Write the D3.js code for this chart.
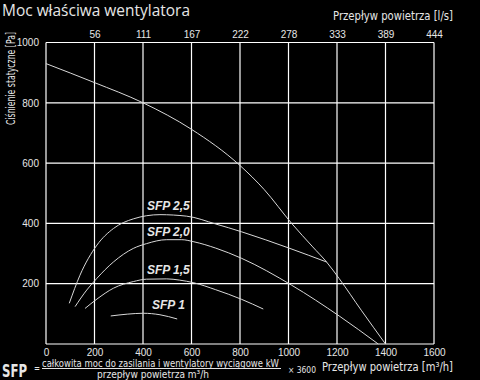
<!DOCTYPE html>
<html>
<head>
<meta charset="utf-8">
<script src="https://d3js.org/d3.v7.min.js"></script>
<style>
body { margin: 0; background: #000; }
svg { display: block; }
text { fill: #e6e6e6; }
</style>
</head>
<body>
<div id="chart"></div>
<script>
/* Data */
// airflow in m3/h, static pressure in Pa
var fanCurve = [[0,930],[200,867],[400,800],[600,712],[800,592],[900,512],[1013,400],[1100,322],[1157,272],[1209,217],[1300,112],[1400,0]];
var sfp25 = [[96,135],[140,228],[210,328],[278,383],[360,415],[470,429],[580,424],[700,398],[807,372],[1006,317],[1157,272]];
var sfp20 = [[120,124],[168,179],[210,218],[278,272],[360,317],[415,333],[498,346],[560,346],[610,339],[700,318],[807,284],[1013,195],[1209,93],[1370,0]];
var sfp15 = [[161,118],[210,149],[278,185],[360,207],[415,215],[498,216],[550,212],[610,203],[700,180],[807,148],[896,116]];
var sfp10 = [[267,93],[335,99],[401,102],[470,97],[541,83]];

var seriesNames = ["SFP 2,5", "SFP 2,0", "SFP 1,5", "SFP 1"];
// where each curve label sits (data units)
var labelAt = [[416,454],[416,368],[416,242],[437,126]];

var xTicks = [0,200,400,600,800,1000,1200,1400,1600];
var yTicks = [200,400,600,800,1000];
var lsTicks = ["56","111","167","222","278","333","389","444"];

var width = 480, height = 380;
var margin = {left:46, right:46, top:42.5, bottom:36};

/* Setup */
var svg = d3.select('#chart')
    .append('svg')
    .attr('width', width)
    .attr('height', height)
    .style('background', '#000');

var x = d3.scaleLinear().domain([0,1600]).range([margin.left, width-margin.right]);
var y = d3.scaleLinear().domain([0,1000]).range([height-margin.bottom, margin.top]);

drawGrid();
drawAxes();
drawCurves();
drawTexts();

/*
 * white grid and frame
 */
function drawGrid(){
    svg.append('g')
	.selectAll('line.v')
	.data(xTicks)
	.enter()
	.append('line')
	.attr('x1', function(d){return x(d);})
	.attr('x2', function(d){return x(d);})
	.attr('y1', y(0))
	.attr('y2', y(1000))
	.attr('stroke', '#fff')
	.attr('stroke-width', 1.2);

    svg.append('g')
	.selectAll('line.h')
	.data([0].concat(yTicks))
	.enter()
	.append('line')
	.attr('x1', x(0))
	.attr('x2', x(1600))
	.attr('y1', function(d){return y(d);})
	.attr('y2', function(d){return y(d);})
	.attr('stroke', '#fff')
	.attr('stroke-width', 1.2);
}

/*
 * tick labels only, no domain lines
 */
function drawAxes(){
    var bottom = svg.append('g')
	.attr('transform', 'translate(0,' + (y(0)+2) + ')')
	.call(d3.axisBottom(x).tickValues(xTicks).tickSize(0).tickFormat(d3.format('d')));

    var left = svg.append('g')
	.attr('transform', 'translate(' + (x(0)-4) + ',0)')
	.call(d3.axisLeft(y).tickValues(yTicks).tickSize(0).tickFormat(d3.format('d')));

    var top = svg.append('g')
	.attr('transform', 'translate(0,' + (y(1000)-2) + ')')
	.call(d3.axisTop(x).tickValues(xTicks.slice(1)).tickSize(0)
	      .tickFormat(function(d,i){return lsTicks[i];}));

    [bottom, left, top].forEach(function(g){
	g.select('.domain').remove();
	g.selectAll('text')
	    .attr('fill', '#e6e6e6')
	    .style('font-family', 'Liberation Sans, Arial, sans-serif')
	    .style('font-size', '10px');
    });
}

/*
 * fan curve and the SFP curves
 */
function drawCurves(){
    var line = d3.line()
	.x(function(d){return x(d[0]);})
	.y(function(d){return y(d[1]);})
	.curve(d3.curveMonotoneX);

    svg.selectAll('path.curve')
	.data([fanCurve, sfp25, sfp20, sfp15, sfp10])
	.enter()
	.append('path')
	.attr('class', 'curve')
	.attr('d', line)
	.attr('fill', 'none')
	.attr('stroke', '#d8d8d8')
	.attr('stroke-width', 1);

    svg.selectAll('text.sfp')
	.data(seriesNames)
	.enter()
	.append('text')
	.attr('class', 'sfp')
	.attr('x', function(d,i){return x(labelAt[i][0]);})
	.attr('y', function(d,i){return y(labelAt[i][1]);})
	.attr('dominant-baseline', 'middle')
	.style('font-family', 'Liberation Sans, Arial, sans-serif')
	.style('font-size', '12px')
	.style('font-weight', 'bold')
	.style('font-style', 'italic')
	.attr('fill', '#fff')
	.text(function(d){return d;});
}

/*
 * title, axis titles and the SFP formula
 */
function drawTexts(){
    var humanist = 'DejaVu Sans Condensed, DejaVu Sans, sans-serif';

    svg.append('text')
	.attr('x', 2).attr('y', 16)
	.attr('textLength', 188).attr('lengthAdjust', 'spacingAndGlyphs')
	.style('font-family', 'Open Sans, sans-serif')
	.style('font-size', '16px')
	.text('Moc właściwa wentylatora');

    svg.append('text')
	.attr('x', 333).attr('y', 20)
	.attr('textLength', 120).attr('lengthAdjust', 'spacingAndGlyphs')
	.style('font-family', humanist)
	.style('font-size', '12px')
	.text('Przepływ powietrza  [l/s]');

    svg.append('text')
	.attr('transform', 'translate(15,32) rotate(-90)')
	.attr('text-anchor', 'end')
	.attr('textLength', 93).attr('lengthAdjust', 'spacingAndGlyphs')
	.style('font-family', humanist)
	.style('font-size', '11.5px')
	.text('Ciśnienie statyczne [Pa]');

    svg.append('text')
	.attr('x', 2).attr('y', 376.5)
	.attr('textLength', 25).attr('lengthAdjust', 'spacingAndGlyphs')
	.style('font-family', humanist)
	.style('font-size', '17px')
	.style('font-weight', 'bold')
	.attr('fill', '#fff')
	.text('SFP');

    svg.append('text')
	.attr('x', 34).attr('y', 372)
	.attr('textLength', 6).attr('lengthAdjust', 'spacingAndGlyphs')
	.style('font-family', humanist)
	.style('font-size', '10px')
	.text('=');

    svg.append('text')
	.attr('x', 42).attr('y', 366.5)
	.attr('textLength', 237).attr('lengthAdjust', 'spacingAndGlyphs')
	.style('font-family', humanist)
	.style('font-size', '10px')
	.text('całkowita moc do zasilania i wentylatory wyciągowe kW');

    svg.append('line')
	.attr('x1', 42).attr('x2', 281)
	.attr('y1', 368.5).attr('y2', 368.5)
	.attr('stroke', '#e6e6e6')
	.attr('stroke-width', 1);

    svg.append('text')
	.attr('x', 97).attr('y', 377.5)
	.attr('textLength', 112).attr('lengthAdjust', 'spacingAndGlyphs')
	.style('font-family', humanist)
	.style('font-size', '10px')
	.text('przepływ powietrza m³/h');

    svg.append('text')
	.attr('x', 288).attr('y', 372.5)
	.attr('textLength', 28).attr('lengthAdjust', 'spacingAndGlyphs')
	.style('font-family', humanist)
	.style('font-size', '9px')
	.text('× 3600');

    svg.append('text')
	.attr('x', 322).attr('y', 371)
	.attr('textLength', 131).attr('lengthAdjust', 'spacingAndGlyphs')
	.style('font-family', humanist)
	.style('font-size', '12px')
	.text('Przepływ powietrza  [m³/h]');
}
</script>
</body>
</html>
